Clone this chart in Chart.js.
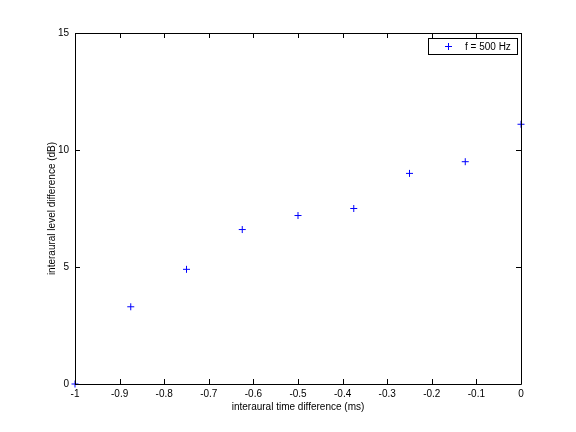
<!DOCTYPE html>
<html>
<head>
<meta charset="utf-8">
<script src="https://cdn.jsdelivr.net/npm/chart.js@4/dist/chart.umd.min.js"></script>
<style>
  html, body { margin: 0; padding: 0; background: #fff; }
  #wrap { width: 576px; height: 432px; }
</style>
</head>
<body>
<div id="wrap"><canvas id="itdChart" width="576" height="432"></canvas></div>
<script>
// interaural time difference (ms) vs level difference (dB)
const itd = [-1, -0.875, -0.75, -0.625, -0.5, -0.375, -0.25, -0.125, 0];
const ild = [0, 3.3, 4.9, 6.6, 7.2, 7.5, 9.0, 9.5, 11.1];
const xTicks = [-1, -0.9, -0.8, -0.7, -0.6, -0.5, -0.4, -0.3, -0.2, -0.1, 0];
const yTicks = [0, 5, 10, 15];
const legendLabel = 'f = 500 Hz';

const font = { family: 'Liberation Sans, Arial, sans-serif', size: 10 };
const blue = '#0000ff';

// matlab-style box with inward ticks + legend
const boxPlugin = {
  id: 'box',
  afterDraw(chart) {
    const c = chart.ctx;
    const a = chart.chartArea;
    const xs = chart.scales.x, ys = chart.scales.y;
    const tl = 5;
    c.save();
    c.strokeStyle = '#000';
    c.lineWidth = 1;
    c.beginPath();
    c.rect(a.left + 0.5, a.top + 0.5, a.right - a.left, a.bottom - a.top);
    xTicks.forEach(v => {
      const px = Math.round(xs.getPixelForValue(v)) + 0.5;
      c.moveTo(px, a.bottom); c.lineTo(px, a.bottom - tl);
      c.moveTo(px, a.top); c.lineTo(px, a.top + tl);
    });
    yTicks.forEach(v => {
      const py = Math.round(ys.getPixelForValue(v)) + 0.5;
      c.moveTo(a.left, py); c.lineTo(a.left + tl, py);
      c.moveTo(a.right, py); c.lineTo(a.right - tl, py);
    });
    c.stroke();

    // legend
    c.fillStyle = '#fff';
    c.fillRect(428, 38, 89, 16);
    c.strokeRect(428.5, 38.5, 89, 16);
    c.strokeStyle = blue;
    c.beginPath();
    c.moveTo(445, 46.5); c.lineTo(452, 46.5);
    c.moveTo(448.5, 43); c.lineTo(448.5, 50);
    c.stroke();
    c.fillStyle = '#000';
    c.font = font.size + 'px ' + font.family;
    c.textBaseline = 'middle';
    c.fillText(legendLabel, 465, 47);
    c.restore();
  }
};

new Chart(document.getElementById('itdChart'), {
  type: 'scatter',
  data: {
    datasets: [{
      label: legendLabel,
      data: itd.map((x, i) => ({ x, y: ild[i] })),
      pointStyle: 'cross',
      pointRadius: 3.5,
      pointBorderWidth: 1,
      pointBorderColor: blue,
      pointBackgroundColor: blue,
      showLine: false,
      clip: false,
    }],
  },
  options: {
    responsive: false,
    animation: false,
    layout: { padding: { top: 33, right: 55, bottom: 0, left: 0 } },
    plugins: { legend: { display: false }, tooltip: { enabled: false } },
    scales: {
      x: {
        type: 'linear',
        min: -1,
        max: 0,
        afterFit: s => { s.height = 48; },
        afterBuildTicks: s => { s.ticks = xTicks.map(v => ({ value: v })); },
        grid: { display: false, drawTicks: false },
        border: { display: false },
        ticks: {
          color: '#000',
          font,
          padding: 4,
          maxRotation: 0,
          autoSkip: false,
          callback: v => String(Math.round(v * 10) / 10),
        },
        title: {
          display: true,
          text: 'interaural time difference (ms)',
          color: '#000',
          font,
          padding: { top: 0, bottom: 19 },
        },
      },
      y: {
        type: 'linear',
        min: 0,
        max: 15,
        afterFit: s => { s.width = 75; },
        afterBuildTicks: s => { s.ticks = yTicks.map(v => ({ value: v })); },
        grid: { display: false, drawTicks: false },
        border: { display: false },
        ticks: { color: '#000', font, padding: 6 },
        title: {
          display: true,
          text: 'interaural level difference (dB)',
          color: '#000',
          font,
          padding: { top: 46, bottom: 0 },
        },
      },
    },
  },
  plugins: [boxPlugin],
});
</script>
</body>
</html>
